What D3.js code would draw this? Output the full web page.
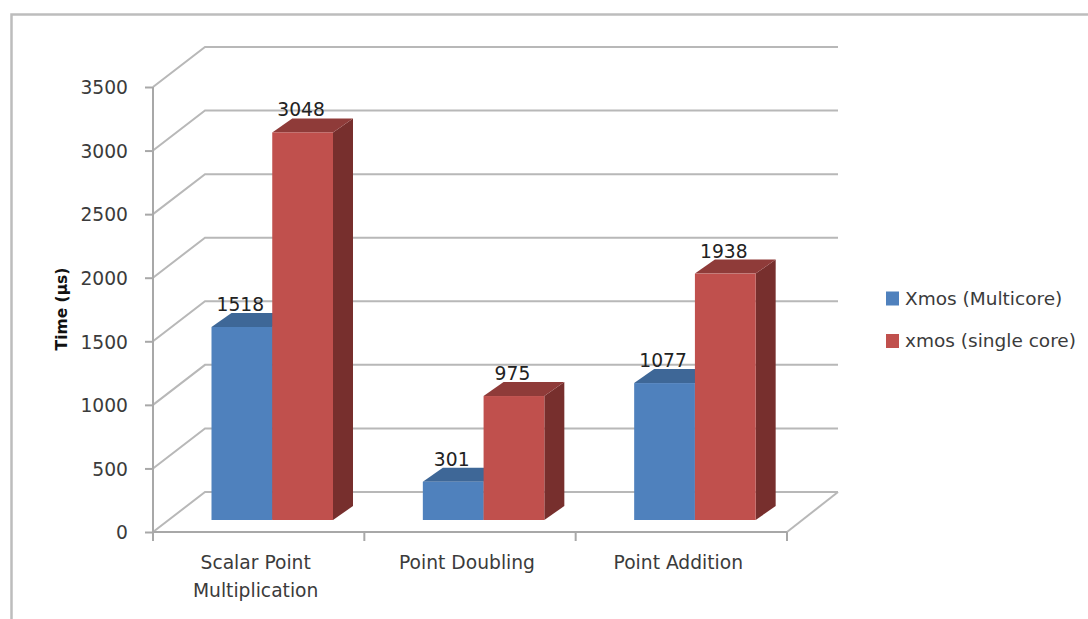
<!DOCTYPE html>
<html>
<head>
<meta charset="utf-8">
<script src="https://cdn.jsdelivr.net/npm/d3@7"></script>
<style>
  html, body { margin: 0; padding: 0; background: #fff; }
  svg { display: block; }
  text { font-family: "DejaVu Sans", sans-serif; fill: #3b3b3b; }
</style>
</head>
<body>
<svg id="chart" width="1088" height="619"></svg>
<script>
const categories = [["Scalar Point", "Multiplication"], ["Point Doubling"], ["Point Addition"]];
const seriesNames = ["Xmos (Multicore)", "xmos (single core)"];
const multicore = [1518, 301, 1077];
const singleCore = [3048, 975, 1938];
const yTicks = [0, 500, 1000, 1500, 2000, 2500, 3000, 3500];

const faceColors = ["#4f81bd", "#c0504d"];
const topColors = ["#3e6797", "#8f3b39"];
const sideColors = ["#2f4e73", "#772f2d"];

const svg = d3.select("#chart");

// Oblique projection of the 3D plot box
const wallDx = 52, wallDy = -40;
const barDx = 20, barDy = -14;
const floorLift = 12;

const x = d3.scaleBand().domain(d3.range(categories.length)).range([153, 787]);
const y = d3.scaleLinear().domain([0, 3500]).range([532, 87]);
const inner = d3.scaleBand().domain([0, 1]).range([58.5, 180]);

// Chart frame
svg.append("path")
  .attr("d", "M11.5,619V14.5H1088")
  .attr("fill", "none").attr("stroke", "#bdbdbd").attr("stroke-width", 2.5);

// Back wall gridlines and the slanted side wall lines
const gridGroup = svg.append("g").attr("fill", "none").attr("stroke", "#b8b8b8").attr("stroke-width", 2);
yTicks.forEach(t => {
  const yy = y(t);
  gridGroup.append("path").attr("d",
    `M153,${yy}L${153 + wallDx},${yy + wallDy}H${787 + wallDx - 1}`);
});
// Right edge of the floor
gridGroup.append("path").attr("d", `M787,${y(0)}L${787 + wallDx - 1},${y(0) + wallDy}`);

// Axes, drawn from the scales
const axisY = d3.axisLeft(y).tickValues(yTicks).tickSize(8).tickPadding(17).tickFormat(d3.format("d"));
const axisX = d3.axisBottom(x).tickValues([]).tickSizeOuter(0);

const gy = svg.append("g").attr("transform", "translate(153,0)").call(axisY);
gy.selectAll("line").attr("stroke", "#a8a8a8").attr("stroke-width", 2);
gy.select(".domain").attr("stroke", "#a8a8a8").attr("stroke-width", 2).attr("d", `M0,${y(3500)}V${y(0)}`);
gy.selectAll("text").attr("font-size", 18.7).attr("dy", "0.36em")
  .style("font-family", '"DejaVu Sans", sans-serif').attr("fill", "#3b3b3b");

const gx = svg.append("g").attr("transform", `translate(0,${y(0)})`).call(axisX);
gx.select(".domain").attr("stroke", "#a8a8a8").attr("stroke-width", 2).attr("d", "M153,0H787");
[0, 1, 2].forEach(i => gx.append("line")
  .attr("x1", x(i)).attr("x2", x(i)).attr("y1", 0).attr("y2", 9)
  .attr("stroke", "#a8a8a8").attr("stroke-width", 2));
gx.append("line").attr("x1", 787).attr("x2", 787).attr("y1", 0).attr("y2", 9)
  .attr("stroke", "#a8a8a8").attr("stroke-width", 2);

// 3D columns: blue first so the red face covers its side panel
const bars = svg.append("g");
categories.forEach((_, c) => {
  [multicore, singleCore].forEach((values, s) => {
    const left = x(c) + inner(s);
    const right = left + inner.bandwidth();
    const base = y(0) - floorLift;
    const top = base - (y(0) - y(values[c]));
    const g = bars.append("g");
    g.append("path").attr("fill", sideColors[s]).attr("d",
      `M${right},${top}l${barDx},${barDy}V${base + barDy}L${right},${base}Z`);
    g.append("path").attr("fill", topColors[s]).attr("d",
      `M${left},${top}l${barDx},${barDy}H${right + barDx}L${right},${top}Z`);
    g.append("rect").attr("fill", faceColors[s])
      .attr("x", left).attr("y", top)
      .attr("width", right - left).attr("height", base - top);
  });
});

// Value labels
categories.forEach((_, c) => {
  [multicore, singleCore].forEach((values, s) => {
    const base = y(0) - floorLift;
    const top = base - (y(0) - y(values[c]));
    svg.append("text")
      .attr("x", x(c) + inner(s) + inner.bandwidth() / 2 - 1.5)
      .attr("y", top - 16)
      .attr("text-anchor", "middle")
      .attr("font-size", 18.7)
      .style("fill", "#222")
      .text(values[c]);
  });
});

// Category labels
categories.forEach((lines, c) => {
  lines.forEach((line, i) => {
    svg.append("text")
      .attr("x", x(c) + x.bandwidth() / 2 - 3)
      .attr("y", 569 + i * 28)
      .attr("text-anchor", "middle")
      .attr("font-size", 18.7)
      .text(line);
  });
});

// Value axis title
svg.append("text")
  .attr("transform", "translate(67,309) rotate(-90)")
  .attr("text-anchor", "middle")
  .attr("font-size", 15.5)
  .attr("font-weight", 700)
  .style("fill", "#111")
  .text("Time (µs)");

// Legend
seriesNames.forEach((name, i) => {
  const ly = 298.5 + i * 42.5;
  svg.append("rect").attr("x", 886).attr("y", ly - 7).attr("width", 13).attr("height", 14)
    .attr("fill", faceColors[i]);
  svg.append("text").attr("x", 905).attr("y", ly + 6).attr("font-size", 18.5).text(name);
});
</script>
</body>
</html>
